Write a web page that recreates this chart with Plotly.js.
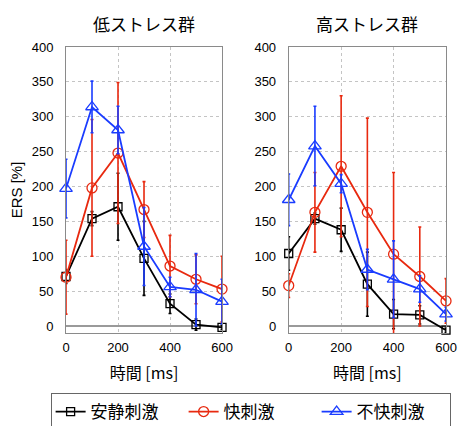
<!DOCTYPE html>
<html>
<head>
<meta charset="utf-8">
<script src="https://cdn.plot.ly/plotly-3.0.1.min.js"></script>
<style>html,body{margin:0;padding:0;background:#fff;}#chart{width:459px;height:426px;}</style>
</head>
<body>
<div id="chart"></div>
<script>
const times = [0, 100, 200, 300, 400, 500, 600];
const groupTitles = ['低ストレス群', '高ストレス群'];
const seriesNames = ['安静刺激', '快刺激', '不快刺激'];

const lowCalm = [71, 154, 171, 97, 32, 2, -2];
const lowCalmErr = [10, 10, 48, 53, 14, 8, 3];
const lowPleasant = [70, 198, 248, 167, 86, 67, 53];
const lowPleasantErr = [53, 98, 101, 40, 44, 35, 47];
const lowUnpleasant = [197, 314, 281, 114, 56, 52, 35];
const lowUnpleasantErr = [42, 37, 34, 56, 14, 52, 32];

const highCalm = [104, 154, 138, 60, 17, 16, -6];
const highCalmErr = [24, 8, 31, 46, 21, 13, 3];
const highPleasant = [58, 163, 229, 163, 103, 71, 36];
const highPleasantErr = [17, 57, 101, 135, 117, 71, 32];
const highUnpleasant = [181, 258, 204, 81, 67, 53, 17];
const highUnpleasantErr = [37, 57, 13, 29, 55, 19, 10];

const colors = ['#000000', '#e8290f', '#1a3cff'];
const symbols = ['square-open', 'circle-open', 'triangle-up-open'];
const sizes = [8, 10, 11];

function mk(y, err, i, xa, ya, show) {
  return {
    x: times, y: y, xaxis: xa, yaxis: ya, type: 'scatter', mode: 'lines+markers',
    name: seriesNames[i], showlegend: show, legendgroup: 'g' + i, cliponaxis: false,
    line: {color: colors[i], width: 1.8},
    marker: {symbol: symbols[i], size: sizes[i], color: colors[i], line: {color: colors[i], width: 1.3}},
    error_y: {type: 'data', array: err, visible: true, color: colors[i], thickness: 1.6, width: 1.5}
  };
}

const data = [
  mk(lowCalm, lowCalmErr, 0, 'x', 'y', true),
  mk(lowPleasant, lowPleasantErr, 1, 'x', 'y', true),
  mk(lowUnpleasant, lowUnpleasantErr, 2, 'x', 'y', true),
  mk(highCalm, highCalmErr, 0, 'x2', 'y2', false),
  mk(highPleasant, highPleasantErr, 1, 'x2', 'y2', false),
  mk(highUnpleasant, highUnpleasantErr, 2, 'x2', 'y2', false)
];

const tickFont = {family: 'Liberation Sans, Arial, sans-serif', size: 13, color: '#000'};
const cjk = 'Noto Sans CJK JP, sans-serif';

function xax(dom, anchor) {
  return {
    domain: dom, anchor: anchor, range: [0, 600], tickvals: [0, 200, 400, 600],
    showgrid: true, gridcolor: '#c4c4c4', griddash: 'dot', gridwidth: 1,
    showline: true, mirror: true, linecolor: '#8a8a8a', linewidth: 1,
    zeroline: false, ticks: '', tickfont: tickFont, ticklabelstandoff: 2,
    title: {text: '時間 [ms]', font: {family: cjk, size: 16, color: '#000'}, standoff: 14}
  };
}
function yax(dom, anchor, title) {
  const a = {
    domain: dom, anchor: anchor, range: [-10, 400], tickvals: [0, 50, 100, 150, 200, 250, 300, 350, 400],
    showgrid: true, gridcolor: '#c4c4c4', griddash: 'dot', gridwidth: 1,
    showline: true, mirror: true, linecolor: '#8a8a8a', linewidth: 1,
    zeroline: true, zerolinecolor: '#9a9a9a', zerolinewidth: 1.3,
    ticks: '', tickfont: tickFont, ticklabelstandoff: 9
  };
  if (title) a.title = {text: title, font: {family: 'Liberation Sans, Arial, sans-serif', size: 15, color: '#000'}, standoff: 5};
  return a;
}

const yDom = [0.2183, 0.8897];
const layout = {
  width: 459, height: 426,
  margin: {l: 0, r: 0, t: 0, b: 0, autoexpand: false},
  paper_bgcolor: '#fff', plot_bgcolor: '#fff',
  xaxis: xax([0.1438, 0.4837], 'y'),
  yaxis: yax(yDom, 'x', 'ERS [%]'),
  xaxis2: xax([0.629, 0.9717], 'y2'),
  yaxis2: yax(yDom, 'x2', null),
  showlegend: true,
  legend: {
    orientation: 'h', x: 0.546, xanchor: 'center', y: 0.0775, yanchor: 'top',
    bordercolor: '#666', borderwidth: 1, bgcolor: '#fff', itemwidth: 30,
    entrywidth: 88, entrywidthmode: 'pixels',
    font: {family: cjk, size: 17, color: '#000'}
  },
  annotations: [
    {text: groupTitles[0], xref: 'paper', yref: 'paper', x: 0.3137, y: 1 - 23 / 426, xanchor: 'center', yanchor: 'middle', showarrow: false, font: {family: cjk, size: 17, color: '#000'}},
    {text: groupTitles[1], xref: 'paper', yref: 'paper', x: 0.8003, y: 1 - 23 / 426, xanchor: 'center', yanchor: 'middle', showarrow: false, font: {family: cjk, size: 17, color: '#000'}}
  ]
};

Plotly.newPlot('chart', data, layout, {staticPlot: true});
</script>
</body>
</html>
